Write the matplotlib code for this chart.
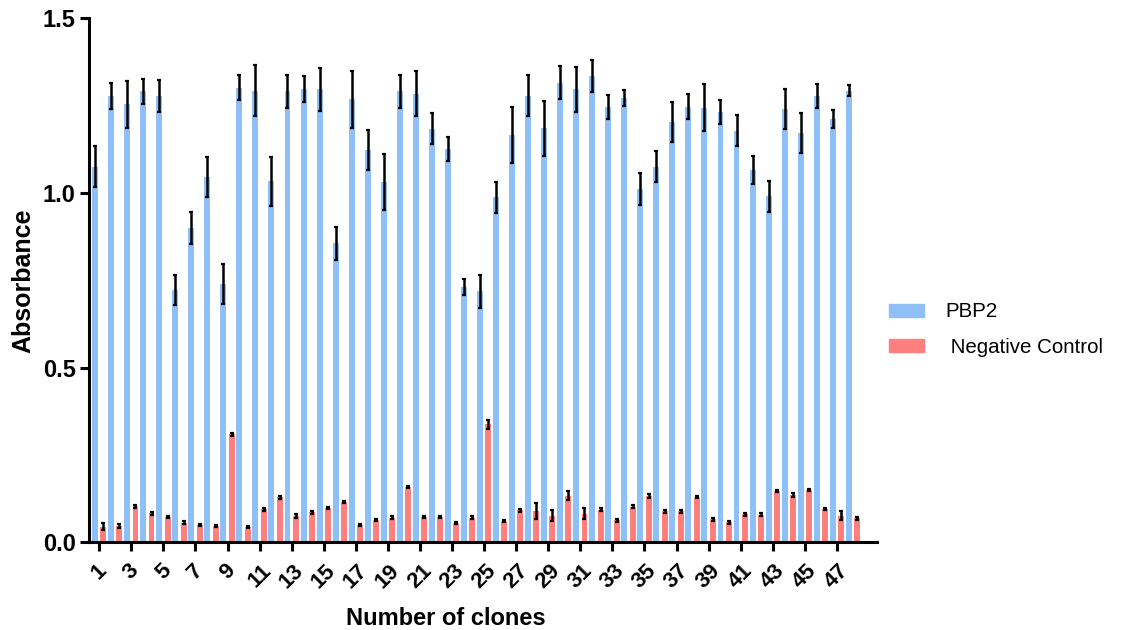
import numpy as np
import matplotlib
matplotlib.use("Agg")
import matplotlib.pyplot as plt
import matplotlib.transforms as mtransforms
from matplotlib.patches import Patch

plt.rcParams["font.family"] = ["Liberation Sans", "DejaVu Sans"]

clones = np.arange(1, 49)

# mean absorbance per clone
pbp2 = [1.075, 1.277, 1.253, 1.290, 1.277, 0.722, 0.900, 1.046, 0.739, 1.301,
        1.292, 1.033, 1.290, 1.296, 1.296, 0.856, 1.267, 1.123, 1.031, 1.290,
        1.284, 1.183, 1.125, 0.732, 0.718, 0.987, 1.165, 1.278, 1.185, 1.315,
        1.296, 1.334, 1.246, 1.271, 1.011, 1.075, 1.203, 1.246, 1.243, 1.231,
        1.178, 1.065, 0.990, 1.240, 1.171, 1.277, 1.211, 1.292]
pbp2_err = [0.058, 0.036, 0.068, 0.035, 0.045, 0.043, 0.046, 0.057, 0.058, 0.036,
            0.073, 0.070, 0.048, 0.037, 0.062, 0.047, 0.081, 0.058, 0.079, 0.046,
            0.065, 0.044, 0.034, 0.023, 0.047, 0.045, 0.080, 0.058, 0.079, 0.048,
            0.065, 0.045, 0.035, 0.023, 0.047, 0.044, 0.058, 0.036, 0.067, 0.034,
            0.044, 0.041, 0.044, 0.056, 0.057, 0.035, 0.026, 0.016]

neg = [0.045, 0.048, 0.103, 0.083, 0.073, 0.057, 0.051, 0.048, 0.309, 0.045,
       0.095, 0.129, 0.075, 0.086, 0.098, 0.115, 0.051, 0.065, 0.071, 0.159,
       0.074, 0.073, 0.057, 0.071, 0.338, 0.061, 0.092, 0.090, 0.077, 0.134,
       0.082, 0.094, 0.064, 0.102, 0.133, 0.089, 0.089, 0.130, 0.066, 0.058,
       0.081, 0.079, 0.147, 0.135, 0.150, 0.096, 0.077, 0.069]
neg_err = [0.010, 0.006, 0.004, 0.004, 0.004, 0.004, 0.003, 0.003, 0.003, 0.003,
           0.004, 0.005, 0.006, 0.004, 0.003, 0.003, 0.003, 0.003, 0.004, 0.004,
           0.003, 0.003, 0.003, 0.004, 0.012, 0.003, 0.005, 0.022, 0.015, 0.012,
           0.016, 0.004, 0.004, 0.004, 0.005, 0.004, 0.004, 0.004, 0.004, 0.004,
           0.004, 0.004, 0.004, 0.006, 0.004, 0.004, 0.012, 0.004]

tick_clones = list(range(1, 48, 2))

blue = "#8fbff7"
red = "#ff7f7f"

fig = plt.figure(figsize=(11.29, 6.30), dpi=100)
ax = fig.add_axes([0.0788, 0.1389, 0.698, 0.8325])

w = 0.37
off = 0.26
ax.bar(clones - off, pbp2, width=w, color=blue, linewidth=0, zorder=2)
ax.bar(clones + off, neg, width=w, color=red, linewidth=0, zorder=2)
ax.errorbar(clones - off, pbp2, yerr=pbp2_err, fmt="none", ecolor="black",
            elinewidth=1.8, capsize=1.2, capthick=1.6, zorder=3)
ax.errorbar(clones + off, neg, yerr=neg_err, fmt="none", ecolor="black",
            elinewidth=1.8, capsize=1.2, capthick=1.6, zorder=3)

ax.set_xlim(0.36, 49.5)
ax.set_ylim(0, 1.5)
ax.set_yticks([0, 0.5, 1.0, 1.5])
ax.set_yticklabels(["0.0", "0.5", "1.0", "1.5"], fontsize=17, fontweight="bold")
ax.set_xticks(tick_clones)
ax.set_xticklabels([str(c) for c in tick_clones], fontsize=16,
                   fontweight="bold", rotation=45)

# nudge the slanted clone numbers a little to the left of their ticks
shift = mtransforms.ScaledTranslation(-0.05, 0, fig.dpi_scale_trans)
for lbl in ax.get_xticklabels():
    lbl.set_transform(lbl.get_transform() + shift)

for side in ["top", "right"]:
    ax.spines[side].set_visible(False)
for side in ["left", "bottom"]:
    ax.spines[side].set_linewidth(2.2)
ax.tick_params(axis="both", width=2.2, length=6.5)
ax.tick_params(axis="y", pad=3)
ax.tick_params(axis="x", pad=6)

fig.text(23 / 1129, 1 - 281 / 630, "Absorbance", rotation=90, ha="center",
         va="center", fontsize=18, fontweight="bold")
fig.text(446 / 1129, 1 - 625 / 630, "Number of clones", ha="center",
         va="baseline", fontsize=17, fontweight="bold")

handles = [Patch(color=blue, label="PBP2"),
           Patch(color=red, label=" Negative Control")]
fig.legend(handles=handles, loc="center left",
           bbox_to_anchor=(889 / 1129, 1 - 329.5 / 630), frameon=False,
           fontsize=14.8, handlelength=1.72, handleheight=0.6,
           handletextpad=1.0, labelspacing=0.8, borderpad=0, borderaxespad=0)

fig.savefig("out.png", dpi=100)
